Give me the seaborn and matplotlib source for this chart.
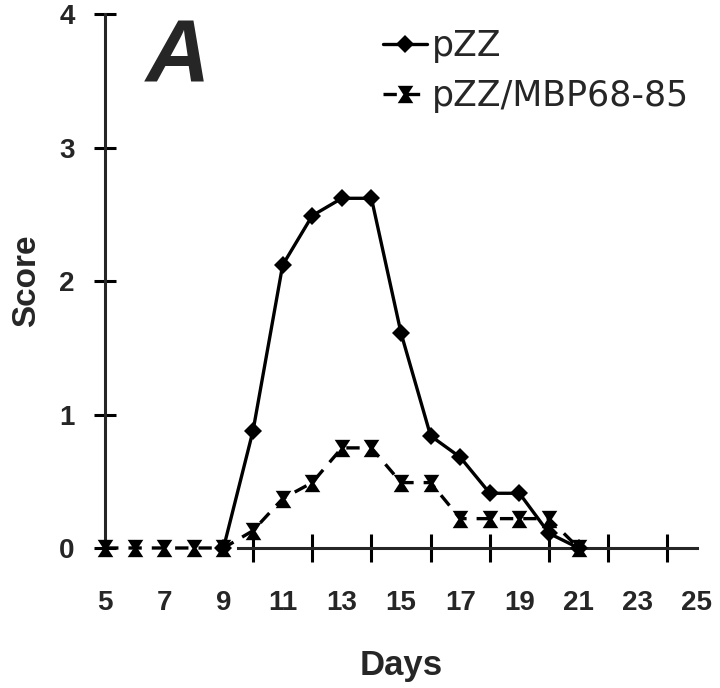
import matplotlib
matplotlib.use("Agg")
import matplotlib.pyplot as plt
import seaborn as sns

# Values
days_pzz = [9, 10, 11, 12, 13, 14, 15, 16, 17, 18, 19, 20, 21]
score_pzz = [0, 0.88, 2.12, 2.49, 2.62, 2.62, 1.61, 0.84, 0.68, 0.41, 0.41, 0.11, 0]

days_mbp = [5, 6, 7, 8, 9, 10, 11, 12, 13, 14, 15, 16, 17, 18, 19, 20, 21]
score_mbp = [0, 0, 0, 0, 0, 0.13, 0.37, 0.49, 0.75, 0.75, 0.49, 0.49,
             0.22, 0.22, 0.22, 0.22, 0]

label_pzz = "pZZ"
label_mbp = "pZZ/MBP68-85"
x_ticklabels = [5, 7, 9, 11, 13, 15, 17, 19, 21, 23, 25]
y_ticks = [0, 1, 2, 3, 4]

sns.set_style("white")
plt.rcParams["font.family"] = ["Liberation Sans", "DejaVu Sans"]

# hourglass-like marker as in the scan
hourglass = [(-0.9, 1), (0.9, 1), (0.25, 0), (0.9, -1), (-0.9, -1), (-0.25, 0)]

fig = plt.figure(figsize=(7.2, 6.88), dpi=100)
ax = fig.add_axes([0.146, 0.2035, 0.822, 0.776])

sns.lineplot(x=days_mbp, y=score_mbp, ax=ax, color="black", linewidth=2.4,
             linestyle=(0, (4, 3)), marker=hourglass, markersize=12.5,
             markeredgewidth=0, clip_on=False, label=label_mbp, zorder=4)
sns.lineplot(x=days_pzz, y=score_pzz, ax=ax, color="black", linewidth=2.4,
             marker="D", markersize=9, markeredgewidth=0,
             clip_on=False, label=label_pzz, zorder=5)

ax.set_xlim(5, 25)
ax.set_ylim(0, 4)

for s in ["top", "right"]:
    ax.spines[s].set_visible(False)
ax.spines["left"].set_linewidth(2.2)
ax.spines["bottom"].set_linewidth(2.2)
ax.spines["bottom"].set_bounds(9.5, 25)

ax.set_xticks(x_ticklabels)
ax.set_xticklabels([str(d) for d in x_ticklabels])
ax.set_xticks(list(range(10, 26)), minor=True)
ax.tick_params(axis="x", which="major", bottom=True, length=0, pad=30,
               labelsize=20, color="black")
ax.tick_params(axis="x", which="minor", bottom=True, direction="inout",
               length=20, width=2.2, color="black")
ax.set_yticks(y_ticks)
ax.set_yticklabels([str(v) for v in y_ticks])
ax.tick_params(axis="y", left=True, direction="inout", length=16, width=2.2,
               pad=14, labelsize=20, color="black")
for lab in ax.get_xticklabels() + ax.get_yticklabels():
    lab.set_fontweight("bold")

ax.set_xlabel("Days", fontsize=25, fontweight="bold", labelpad=24)
ax.set_ylabel("Score", fontsize=24, fontweight="bold", labelpad=12)

ax.text(7.47, 3.66, "A", fontsize=64, fontweight="bold", fontstyle="italic",
        ha="center", va="center")

handles, labels = ax.get_legend_handles_labels()
order = [labels.index(label_pzz), labels.index(label_mbp)]
ax.legend([handles[i] for i in order], [labels[i] for i in order],
          loc="upper left", bbox_to_anchor=(0.47, 0.972), frameon=False,
          prop={"family": "DejaVu Sans", "size": 25}, handlelength=1.25,
          handletextpad=0.15, borderpad=0, borderaxespad=0, labelspacing=0.45)

fig.savefig("out.png", dpi=100)
